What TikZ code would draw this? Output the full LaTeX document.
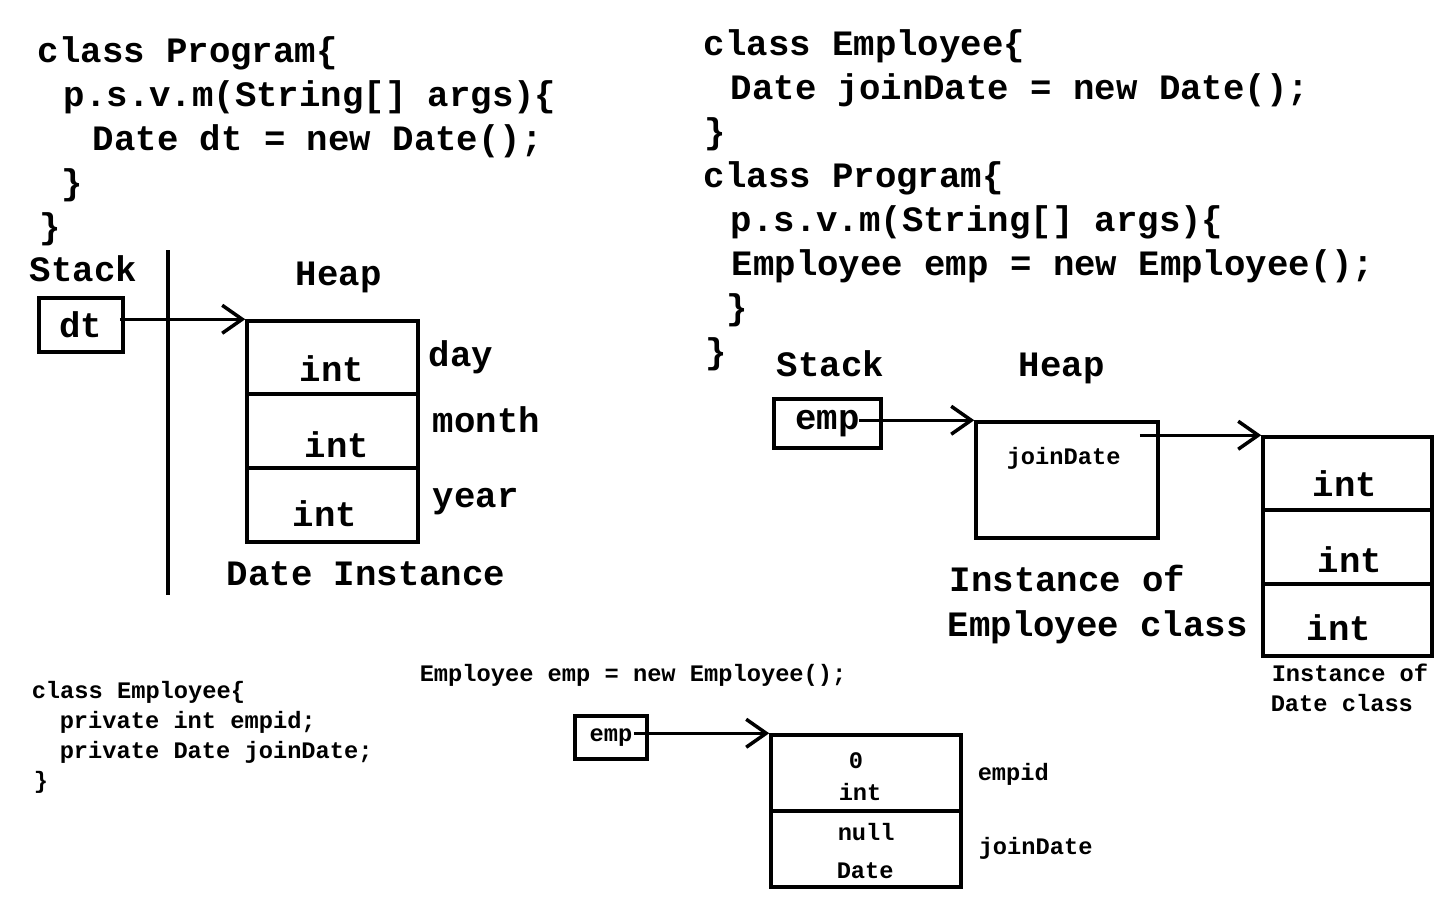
\documentclass[tikz,border=0pt]{standalone}
\usepackage{fontspec}
\newfontfamily\codefont{Liberation Mono}
\usetikzlibrary{arrows.meta, positioning}

\begin{document}
\begin{tikzpicture}[
    x=1pt, y=-1pt,
    line width=3.5pt,
    code/.style={anchor=base west, inner sep=0pt, font=\codefont\bfseries\fontsize{35.7}{44}\selectfont},
    smallcode/.style={anchor=base west, inner sep=0pt, font=\codefont\bfseries\fontsize{23.7}{30}\selectfont},
    cell/.style={rectangle, draw, inner sep=0pt, line width=3.5pt},
    ref/.style={-{Straight Barb[length=20pt, width=28pt]}, line width=3.5pt}
]
    \useasboundingbox (0,0) rectangle (1440,900);

    % Left: code of first program
    \node[code] (l1) at (36,62) {class Program\{};
    \node[code] (l2) at (62,106) {p.s.v.m(String[] args)\{};
    \node[code] (l3) at (91,150) {Date dt = new Date();};
    \node[code] (l4) at (60,194) {\}};
    \node[code] (l5) at (38,238) {\}};

    % Left: stack and heap
    \node[code] (stackL) at (28,281) {Stack};
    \node[code] (heapL) at (294,285) {Heap};
    \draw (168,250) -- (168,595);
    \node[cell, minimum width=84pt, minimum height=54pt, font=\codefont\bfseries\fontsize{35.7}{44}\selectfont] (dt) at (81,325) {dt};

    % Date instance cells
    \node[cell, minimum width=171pt, minimum height=73pt] (day) at (332.5,357.5) {};
    \node[cell, minimum width=171pt, minimum height=74pt] (month) at (332.5,431) {};
    \node[cell, minimum width=171pt, minimum height=74pt] (year) at (332.5,505) {};
    \node[code] (dayT) at (298,381) {int};
    \node[code] (monthT) at (303,457) {int};
    \node[code] (yearT) at (291,526) {int};
    \node[code] (dayL) at (427,366) {day};
    \node[code] (monthL) at (431,432) {month};
    \node[code] (yearL) at (431,507) {year};
    \node[code] (dateI) at (225,585) {Date Instance};

    \draw[ref] ([xshift=-5pt,yshift=5.75pt]dt.east) -- (day.north west);

    % Right: code of second program
    \node[code] (r1) at (702,55) {class Employee\{};
    \node[code] (r2) at (729,99) {Date joinDate = new Date();};
    \node[code] (r3) at (703,143) {\}};
    \node[code] (r4) at (702,187) {class Program\{};
    \node[code] (r5) at (729,231) {p.s.v.m(String[] args)\{};
    \node[code] (r6) at (730,275) {Employee emp = new Employee();};
    \node[code] (r7) at (725,319) {\}};
    \node[code] (r8) at (704,363) {\}};

    % Right: stack and heap
    \node[code] (stackR) at (775,376) {Stack};
    \node[code] (heapR) at (1017,376) {Heap};
    \node[cell, minimum width=107pt, minimum height=49pt, font=\codefont\bfseries\fontsize{35.7}{44}\selectfont] (emp) at (827.5,423.5) {emp};
    \node[cell, minimum width=182pt, minimum height=116pt] (empObj) at (1067,480) {};
    \node[smallcode] (jdT) at (1005,464) {joinDate};
    \node[cell, minimum width=169pt, minimum height=73pt] (d1) at (1347.5,473.5) {};
    \node[cell, minimum width=169pt, minimum height=74pt] (d2) at (1347.5,547) {};
    \node[cell, minimum width=169pt, minimum height=72pt] (d3) at (1347.5,620) {};
    \node[code] (d1T) at (1311,496) {int};
    \node[code] (d2T) at (1316,572) {int};
    \node[code] (d3T) at (1305,640) {int};
    \node[code] (empI1) at (948,591) {Instance of};
    \node[code] (empI2) at (946,636) {Employee class};
    \node[smallcode] (dateI1) at (1270,681) {Instance of};
    \node[smallcode] (dateI2) at (1269,711) {Date class};

    \draw[ref] ([xshift=-24pt,yshift=3.25pt]emp.east) -- (empObj.north west);
    \draw[ref] ([xshift=-20pt,yshift=-15pt]empObj.north east) -- (d1.north west);

    % Bottom: fields of Employee
    \node[smallcode] (b1) at (30,698) {class Employee\{};
    \node[smallcode] (b2) at (58,728) {private int empid;};
    \node[smallcode] (b3) at (58,758) {private Date joinDate;};
    \node[smallcode] (b4) at (32,788) {\}};
    \node[smallcode] (b5) at (418,681) {Employee emp = new Employee();};

    \node[cell, minimum width=72pt, minimum height=43pt, font=\codefont\bfseries\fontsize{23.7}{30}\selectfont] (emp2) at (611,737.5) {emp};
    \node[cell, minimum width=190pt, minimum height=76pt] (f1) at (866,773) {};
    \node[cell, minimum width=190pt, minimum height=76pt] (f2) at (866,849) {};
    \node[smallcode] (f1a) at (847,768) {0};
    \node[smallcode] (f1b) at (837,800) {int};
    \node[smallcode] (f2a) at (836,840) {null};
    \node[smallcode] (f2b) at (835,878) {Date};
    \node[smallcode] (f1L) at (976,780) {empid};
    \node[smallcode] (f2L) at (977,854) {joinDate};

    \draw[ref] ([xshift=-15pt,yshift=4.25pt]emp2.east) -- (f1.north west);

\end{tikzpicture}
\end{document}
